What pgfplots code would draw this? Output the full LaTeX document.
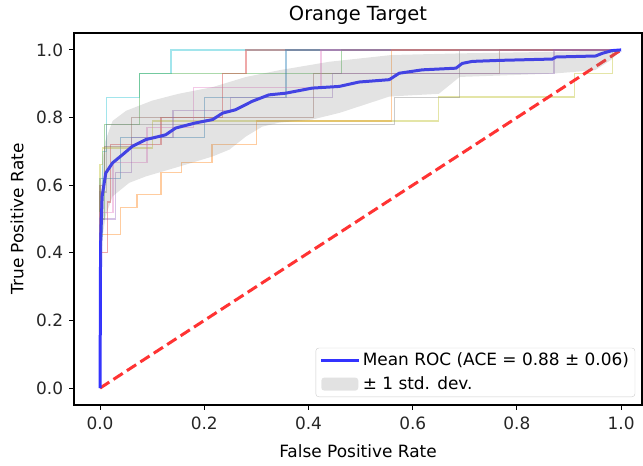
\documentclass[border=0pt]{standalone}
\usepackage{fontspec}
\setmainfont{DejaVu Sans}
\usepackage{pgfplots}
\pgfplotsset{compat=1.18}

% matplotlib tab10 palette for the per-fold curves
\definecolor{tabblue}{HTML}{1F77B4}
\definecolor{taborange}{HTML}{FF7F0E}
\definecolor{tabgreen}{HTML}{2CA02C}
\definecolor{tabred}{HTML}{D62728}
\definecolor{tabpurple}{HTML}{9467BD}
\definecolor{tabbrown}{HTML}{8C564B}
\definecolor{tabpink}{HTML}{E377C2}
\definecolor{tabgray}{HTML}{7F7F7F}
\definecolor{tabolive}{HTML}{BCBD22}
\definecolor{tabcyan}{HTML}{17BECF}
\definecolor{meanblue}{RGB}{51,51,255}
\definecolor{chancered}{RGB}{255,51,51}
\definecolor{bandgray}{RGB}{128,128,128}

\pgfplotsset{
  fold/.style={forget plot, sharp plot, line width=1.2bp, draw opacity=0.4},
  linelegend/.style={legend image code/.code={\draw[##1] (0bp,0bp) -- (38bp,0bp);}},
  bandlegend/.style={legend image code/.code={\fill[bandgray, fill opacity=0.22] (0bp,-6.5bp) rectangle (37bp,6.5bp);}},
}

\begin{document}
\fontsize{17}{20}\selectfont
\begin{tikzpicture}
\useasboundingbox (0,0) rectangle (643bp,466bp);
\begin{axis}[
  at={(74bp,61bp)}, anchor=south west,
  width=568bp, height=372bp, scale only axis,
  xmin=-0.05, xmax=1.04, ymin=-0.05, ymax=1.05,
  xtick={0,0.2,0.4,0.6,0.8,1}, ytick={0,0.2,0.4,0.6,0.8,1},
  tick pos=left, tick align=outside, major tick length=5bp,
  every tick/.style={black, line width=1bp},
  axis line style={line width=1.1bp},
  /pgf/number format/.cd, fixed, fixed zerofill, precision=1, assume math mode=true,
  /pgfplots/.cd,
  ticklabel style={font=\fontsize{17}{20}\selectfont, text=black!85},
  xticklabel style={yshift=-1bp},
  title={Orange Target},
  title style={font=\fontsize{19.5}{23}\selectfont, yshift=-3bp},
  xlabel={False Positive Rate}, ylabel={True Positive Rate},
  label style={font=\fontsize{17}{20}\selectfont},
  xlabel style={yshift=-3bp},
  ylabel style={yshift=1bp},
  legend style={at={(0.988,0.0215)}, anchor=south east, draw=black!20,
    rounded corners=3bp, fill=white, fill opacity=0.8, text opacity=1,
    font=\fontsize{17}{20}\selectfont, row sep=4bp, inner xsep=4bp, inner ysep=3bp},
  legend cell align=left,
]
% individual folds
\addplot[fold, tabcyan] coordinates {(0,0)(0,0.45)(0.005,0.45)(0.005,0.70)(0.012,0.70)(0.012,0.86)(0.075,0.86)(0.075,0.93)(0.136,0.93)(0.136,1)(1,1)};
\addplot[fold, tabgreen] coordinates {(0,0)(0,0.50)(0.008,0.50)(0.008,0.78)(0.075,0.78)(0.075,0.93)(0.464,0.93)(0.464,1)(1,1)};
\addplot[fold, tabred] coordinates {(0,0)(0,0.40)(0.015,0.40)(0.015,0.55)(0.02,0.55)(0.02,0.72)(0.117,0.72)(0.117,0.80)(0.235,0.80)(0.235,0.93)(0.28,0.93)(0.28,1)(1,1)};
\addplot[fold, tabblue] coordinates {(0,0)(0,0.62)(0.04,0.62)(0.04,0.74)(0.2,0.74)(0.2,0.86)(0.357,0.86)(0.357,1)(1,1)};
\addplot[fold, taborange] coordinates {(0,0)(0,0.454)(0.04,0.454)(0.04,0.534)(0.071,0.534)(0.071,0.572)(0.117,0.572)(0.117,0.637)(0.157,0.637)(0.157,0.667)(0.215,0.667)(0.215,0.72)(0.3,0.72)(0.3,0.79)(0.56,0.79)(0.56,1)(1,1)};
\addplot[fold, tabolive] coordinates {(0,0)(0,0.66)(0.005,0.66)(0.005,0.71)(0.1,0.71)(0.1,0.79)(0.65,0.79)(0.65,0.861)(0.91,0.861)(0.91,0.93)(0.983,0.93)(0.983,1)(1,1)};
\addplot[fold, tabgray] coordinates {(0,0)(0,0.58)(0.012,0.58)(0.012,0.78)(0.565,0.78)(0.565,0.86)(0.69,0.86)(0.69,1)(1,1)};
\addplot[fold, tabbrown] coordinates {(0,0)(0,0.60)(0.008,0.60)(0.008,0.714)(0.06,0.714)(0.06,0.80)(0.41,0.80)(0.41,0.93)(0.766,0.93)(0.766,1)(1,1)};
\addplot[fold, tabpink] coordinates {(0,0)(0,0.52)(0.025,0.52)(0.025,0.667)(0.09,0.667)(0.09,0.77)(0.18,0.77)(0.18,0.89)(0.424,0.89)(0.424,1)(1,1)};
\addplot[fold, tabpurple] coordinates {(0,0)(0,0.50)(0.03,0.50)(0.03,0.637)(0.06,0.637)(0.06,0.74)(0.14,0.74)(0.14,0.82)(0.25,0.82)(0.25,0.86)(0.446,0.86)(0.446,0.93)(0.871,0.93)(0.871,1)(1,1)};

% chance diagonal
\addplot[forget plot, chancered, line width=3bp, dash pattern=on 11bp off 5bp] coordinates {(0,0)(1,1)};

% mean ROC
\addplot[meanblue, line width=3bp, sharp plot, linelegend]
  coordinates {(0,0)(0.001,0.42)(0.004,0.567)(0.011,0.636)(0.024,0.666)(0.043,0.69)(0.062,0.715)(0.088,0.735)(0.113,0.744)(0.126,0.749)(0.145,0.769)(0.183,0.784)(0.216,0.794)(0.235,0.813)(0.26,0.823)(0.292,0.848)(0.324,0.867)(0.356,0.872)(0.407,0.887)(0.459,0.892)(0.497,0.905)(0.555,0.912)(0.574,0.931)(0.618,0.941)(0.683,0.946)(0.695,0.96)(0.714,0.966)(0.766,0.969)(0.868,0.973)(0.875,0.979)(0.951,0.982)(0.964,0.99)(0.983,0.998)(1,1)};
\addlegendentry{Mean ROC (ACE = 0.88 ± 0.06)}

% +/- one standard deviation band (upper edge, then lower edge back)
\addplot[draw=none, fill=bandgray, fill opacity=0.22, bandlegend]
  coordinates {(0,0)(0.001,0.55)(0.005,0.68)(0.01,0.73)(0.024,0.79)(0.05,0.82)(0.075,0.835)(0.1,0.85)(0.15,0.87)(0.216,0.89)(0.28,0.92)(0.344,0.94)(0.44,0.965)(0.5,0.975)(0.56,0.985)(0.7,0.99)(0.9,0.995)(1,1)
  (0.98,0.97)(0.95,0.94)(0.87,0.93)(0.69,0.92)(0.65,0.87)(0.6,0.866)(0.555,0.862)(0.46,0.814)(0.407,0.794)(0.344,0.785)(0.311,0.773)(0.28,0.744)(0.248,0.705)(0.216,0.685)(0.152,0.655)(0.088,0.626)(0.056,0.607)(0.024,0.567)(0.011,0.51)(0.005,0.45)(0.001,0.3)} -- cycle;
\addlegendentry{± 1 std. dev.}
\end{axis}
\end{tikzpicture}
\end{document}
